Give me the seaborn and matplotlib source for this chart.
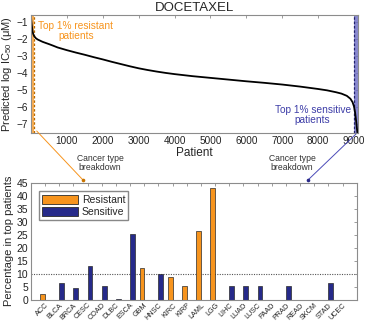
import matplotlib
matplotlib.use("Agg")
import matplotlib.pyplot as plt
import pandas as pd
import seaborn as sns
from matplotlib.lines import Line2D
from matplotlib.patches import Patch

# Sorted predicted log IC50 per patient (rank along the cohort, value)
patient_rank = [0, 5, 14, 25, 42, 60, 88, 130, 181, 250, 321, 400, 507, 620, 740,
                870, 1000, 1250, 1500, 1750, 2000, 2250, 2500, 2750, 3000, 3250,
                3500, 3750, 4000, 4500, 5000, 5500, 6000, 6500, 7000, 7500, 8000,
                8250, 8500, 8650, 8800, 8900, 8960, 9000, 9030, 9060, 9080, 9100]
log_ic50 = [-0.6, -0.85, -1.05, -1.25, -1.55, -1.7, -1.84, -1.95, -2.03, -2.1,
            -2.17, -2.23, -2.31, -2.4, -2.5, -2.58, -2.66, -2.8, -2.93, -3.07,
            -3.2, -3.34, -3.47, -3.6, -3.72, -3.82, -3.91, -3.99, -4.06, -4.18,
            -4.28, -4.38, -4.48, -4.57, -4.67, -4.79, -4.93, -5.01, -5.12, -5.2,
            -5.33, -5.5, -5.7, -5.95, -6.3, -6.8, -7.2, -7.55]
n_patients = 9100
top_fraction = 0.01

# Cancer type breakdown of the top 1% patients (percent)
cancer_types = ["ACC", "BLCA", "BRCA", "CESC", "COAD", "DLBC", "ESCA", "GBM",
                "HNSC", "KIRC", "KIRP", "LAML", "LGG", "LIHC", "LUAD", "LUSC",
                "PAAD", "PRAD", "READ", "SKCM", "STAD", "UCEC"]
resistant_pct = [2.0, 0, 0, 0, 0, 0, 0, 12.1, 0, 8.8, 5.4, 26.4, 42.9, 0, 0, 0,
                 0, 0, 0, 0, 0, 0]
sensitive_pct = [0, 6.5, 4.3, 13.1, 5.4, 0.3, 25.3, 0, 9.9, 0, 0, 0, 0, 5.4, 5.4,
                 5.4, 0, 5.4, 0, 0, 6.5, 0]
threshold_pct = 10

ORANGE = "#F7941D"
NAVY = "#262A8A"
BLUE_TXT = "#3E3EA8"

sns.set_style("white")
plt.rcParams["font.family"] = ["Liberation Sans", "DejaVu Sans"]
plt.rcParams["mathtext.fontset"] = "custom"
plt.rcParams["mathtext.rm"] = "Liberation Sans"
plt.rcParams["mathtext.it"] = "Liberation Sans:italic"

fig = plt.figure(figsize=(3.69, 3.25), dpi=100)
W, H = 369, 325


def fx(x):
    return x / W


def fy(y):
    return 1 - y / H


ax1 = fig.add_axes([0.084, 0.591, 0.886, 0.363])
ax2 = fig.add_axes([0.084, 0.078, 0.883, 0.360])

# ---- top: sorted predicted response curve ----
cut = n_patients * top_fraction
ax1.axvspan(0, cut, color=ORANGE, alpha=0.75, lw=0)
ax1.axvspan(n_patients - cut, n_patients + 10, color="#6B6BC4", alpha=0.8, lw=0)
ax1.axvline(cut, color="#B86A00", ls=(0, (2, 1.5)), lw=0.9)
ax1.axvline(n_patients - cut, color="#20206A", ls=(0, (2, 1.5)), lw=0.9)
sns.lineplot(x=patient_rank, y=log_ic50, color="black", lw=1.3, ax=ax1)
ax1.set_xlim(0, n_patients + 10)
ax1.set_ylim(-7.5, -0.6)
ax1.set_xticks(range(1000, 10000, 1000))
ax1.set_yticks(range(-7, 0))
ax1.set_xlabel("Patient", fontsize=8.5, labelpad=1)
ax1.set_ylabel("Predicted log IC$_{50}$ (\u03bcM)", fontsize=8, labelpad=2)
ax1.set_title("DOCETAXEL", fontsize=9.5, pad=3)
ax1.text(1250, -1.55, "Top 1% resistant\npatients", color=ORANGE, fontsize=7.3,
         ha="center", va="center", linespacing=1.0)
ax1.text(7850, -6.45, "Top 1% sensitive\npatients", color=BLUE_TXT, fontsize=7.3,
         ha="center", va="center", linespacing=1.0)

# ---- bottom: cancer type breakdown ----
df = pd.DataFrame({
    "cancer": cancer_types * 2,
    "pct": resistant_pct + sensitive_pct,
    "group": ["Resistant"] * len(cancer_types) + ["Sensitive"] * len(cancer_types),
})
sns.barplot(data=df, x="cancer", y="pct", hue="group", order=cancer_types,
            hue_order=["Resistant", "Sensitive"],
            palette={"Resistant": ORANGE, "Sensitive": NAVY}, saturation=1,
            width=0.66, edgecolor="#2a2a2a", linewidth=0.5, legend=False, ax=ax2)
ax2.axhline(threshold_pct, color="#555555", ls=(0, (1, 1.2)), lw=0.8, zorder=0)
ax2.set_xlim(-1, len(cancer_types))
ax2.set_ylim(0, 45)
ax2.set_yticks(range(0, 50, 5))
ax2.set_xlabel("")
ax2.set_ylabel("Percentage in top patients", fontsize=8, labelpad=2)
ax2.set_xticks(range(len(cancer_types)))
ax2.set_xticklabels(cancer_types, rotation=45, ha="right", rotation_mode="anchor",
                    fontsize=5.2)
handles = [Patch(facecolor=ORANGE, edgecolor="#2a2a2a", lw=0.6, label="Resistant"),
           Patch(facecolor=NAVY, edgecolor="#2a2a2a", lw=0.6, label="Sensitive")]
ax2.legend(handles=handles, loc="upper left", bbox_to_anchor=(0.025, 0.925),
           borderaxespad=0, fontsize=7.5, handlelength=3.4, handleheight=1.0,
           handletextpad=0.4, borderpad=0.3, labelspacing=0.2,
           fancybox=False, edgecolor="#888888", framealpha=1)

for ax in (ax1, ax2):
    for s in ax.spines.values():
        s.set_color("#8c8c8c")
        s.set_linewidth(0.8)
    ax.tick_params(axis="both", direction="in", length=2.5, width=0.6,
                   colors="#8c8c8c", labelcolor="#222222", top=True, right=True,
                   pad=2)
ax1.tick_params(labelsize=7.2)
ax2.tick_params(axis="y", labelsize=7.5)
ax2.tick_params(axis="x", pad=1.5)

# ---- connectors between the panels ----
fig.add_artist(Line2D([fx(36.7), fx(83)], [fy(131), fy(180)], color=ORANGE, lw=0.7,
                      transform=fig.transFigure))
fig.add_artist(Line2D([fx(83)], [fy(180)], marker="o", ms=1.6, color="#C87400",
                      transform=fig.transFigure))
fig.add_artist(Line2D([fx(356), fx(308)], [fy(134), fy(180)], color="#4B4BB8", lw=0.7,
                      transform=fig.transFigure))
fig.add_artist(Line2D([fx(308)], [fy(180)], marker="o", ms=1.6, color="#2A2A8A",
                      transform=fig.transFigure))
fig.text(fx(100), fy(163), "Cancer type\nbreakdown", fontsize=6.2, ha="center",
         va="center", color="#333333", linespacing=1.05)
fig.text(fx(292), fy(163), "Cancer type\nbreakdown", fontsize=6.2, ha="center",
         va="center", color="#333333", linespacing=1.05)

fig.savefig("out.png", dpi=100)
